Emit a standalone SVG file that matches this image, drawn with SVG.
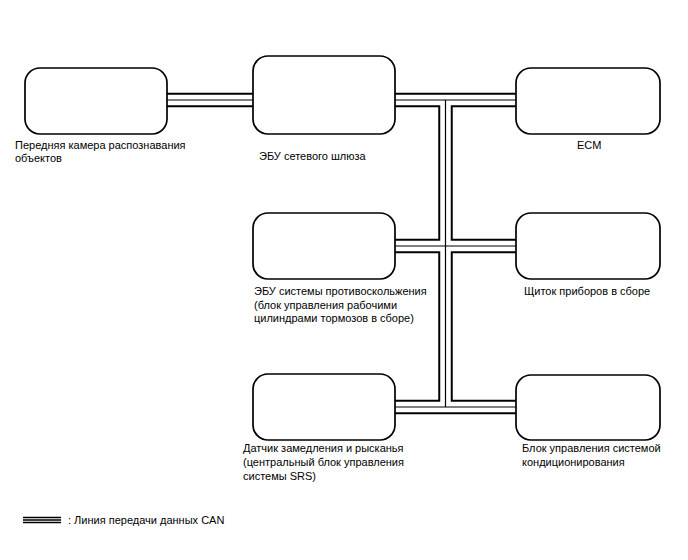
<svg xmlns="http://www.w3.org/2000/svg" width="688" height="560" viewBox="0 0 688 560">
<style>
.box{fill:#fff;stroke:#000;stroke-width:1.7}
.t{font-family:"Liberation Sans",Arial,sans-serif;font-size:11px;fill:#000}
.bk{fill:none;stroke:#000;stroke-width:14.5}
.wh{fill:none;stroke:#fff;stroke-width:10.5}
.ct{fill:none;stroke:#000;stroke-width:1.2}
</style>
<rect width="688" height="560" fill="#fff"/>
<g id="connectors">
<g class="bk">
<path d="M167 100H253M395 100H516M445.5 100V407M395 246H516M395 407H516"/>
</g>
<g class="wh">
<path d="M167 100H253M395 100H516M445.5 100V407M395 246H516M395 407H516"/>
</g>
<g class="ct">
<path d="M167 100H253M395 100H516M445.5 100V407M395 246H516M395 407H516"/>
</g>
</g>
<g id="camera">
<rect class="box" x="25" y="68" width="142" height="66" rx="15"/>
<text class="t" x="15" y="149">Передняя камера распознавания</text>
<text class="t" x="15" y="162">объектов</text>
</g>
<g id="gateway">
<rect class="box" x="253" y="56" width="142" height="78" rx="15"/>
<text class="t" x="259" y="160">ЭБУ сетевого шлюза</text>
</g>
<g id="ecm">
<rect class="box" x="516" y="68" width="144" height="66" rx="15"/>
<text class="t" x="577" y="149">ECM</text>
</g>
<g id="skid">
<rect class="box" x="253" y="213" width="142" height="66" rx="15"/>
<text class="t" x="254" y="295">ЭБУ системы противоскольжения</text>
<text class="t" x="254" y="308.5">(блок управления рабочими</text>
<text class="t" x="254" y="322">цилиндрами тормозов в сборе)</text>
</g>
<g id="meter">
<rect class="box" x="516" y="213" width="144" height="66" rx="15"/>
<text class="t" x="524" y="295">Щиток приборов в сборе</text>
</g>
<g id="yaw">
<rect class="box" x="253" y="374" width="142" height="66" rx="15"/>
<text class="t" x="243" y="452">Датчик замедления и рысканья</text>
<text class="t" x="243" y="466">(центральный блок управления</text>
<text class="t" x="243" y="480">системы SRS)</text>
</g>
<g id="ac">
<rect class="box" x="516" y="375" width="144" height="65" rx="15"/>
<text class="t" x="522" y="452">Блок управления системой</text>
<text class="t" x="522" y="466">кондиционирования</text>
</g>
<g id="legend">
<path d="M23 517.5H61M23 520H61M23 522.5H61" stroke="#000" stroke-width="1.5" fill="none"/>
<text class="t" x="68" y="524">: Линия передачи данных CAN</text>
</g>
</svg>
